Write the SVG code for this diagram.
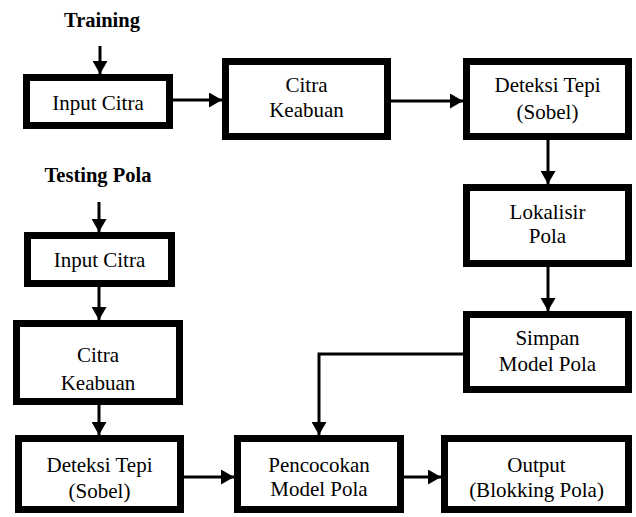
<svg xmlns="http://www.w3.org/2000/svg" width="636" height="517" viewBox="0 0 636 517">
<style>
.box{fill:#fff;stroke:#000;stroke-width:7}
.t{font-family:'Liberation Serif','DejaVu Serif','Times New Roman',Times,serif;font-size:21px;text-anchor:middle;fill:#000}
.h{font-family:'Liberation Serif','DejaVu Serif','Times New Roman',Times,serif;font-size:20.5px;font-weight:bold;text-anchor:middle;fill:#000}
.c{fill:none;stroke:#000;stroke-width:3;marker-end:url(#ah)}
</style>
<defs>
<marker id="ah" viewBox="0 0 13 15" refX="13" refY="7.5" markerWidth="13" markerHeight="15" markerUnits="userSpaceOnUse" orient="auto">
<path d="M0,0 L13,7.5 L0,15 z" fill="#000"/>
</marker>
</defs>
<rect width="636" height="517" fill="#fff"/>
<text class="h" x="102" y="27">Training</text>
<text class="h" x="98" y="182">Testing Pola</text>
<g id="connectors">
<path class="c" d="M100,46 V74"/>
<path class="c" d="M173,100 H222"/>
<path class="c" d="M391,101 H463"/>
<path class="c" d="M548,140 V184"/>
<path class="c" d="M548,267 V311"/>
<path class="c" d="M99,202 V232"/>
<path class="c" d="M99,287 V320"/>
<path class="c" d="M99,405 V435"/>
<path class="c" d="M184,477 H234"/>
<path class="c" d="M404,477 H441"/>
<path class="c" d="M463,354 H319 V435"/>
</g>
<g id="tr_input"><rect class="box" x="26.5" y="77.5" width="143" height="48"/><text class="t" x="98" y="110">Input Citra</text></g>
<g id="tr_gray"><rect class="box" x="225.5" y="61.5" width="162" height="75"/><text class="t" x="306.5" y="92">Citra</text><text class="t" x="306.5" y="117">Keabuan</text></g>
<g id="tr_edge"><rect class="box" x="466.5" y="61.5" width="162" height="75"/><text class="t" x="547.5" y="92">Deteksi Tepi</text><text class="t" x="547.5" y="119">(Sobel)</text></g>
<g id="lokalisir"><rect class="box" x="466.5" y="187.5" width="162" height="76"/><text class="t" x="547.5" y="219">Lokalisir</text><text class="t" x="547.5" y="243">Pola</text></g>
<g id="simpan"><rect class="box" x="466.5" y="314.5" width="162" height="75"/><text class="t" x="547.5" y="345">Simpan</text><text class="t" x="547.5" y="371">Model Pola</text></g>
<g id="ts_input"><rect class="box" x="27.5" y="235.5" width="144" height="48"/><text class="t" x="99.5" y="267">Input Citra</text></g>
<g id="ts_gray"><rect class="box" x="16.5" y="323.5" width="163" height="78"/><text class="t" x="98" y="362">Citra</text><text class="t" x="98" y="390">Keabuan</text></g>
<g id="ts_edge"><rect class="box" x="18.5" y="438.5" width="162" height="71"/><text class="t" x="99.5" y="472">Deteksi Tepi</text><text class="t" x="99.5" y="498">(Sobel)</text></g>
<g id="match"><rect class="box" x="237.5" y="438.5" width="163" height="71"/><text class="t" x="319" y="472">Pencocokan</text><text class="t" x="319" y="496">Model Pola</text></g>
<g id="output"><rect class="box" x="444.5" y="438.5" width="184" height="71"/><text class="t" x="536.5" y="472">Output</text><text class="t" x="536.5" y="497">(Blokking Pola)</text></g>
</svg>
